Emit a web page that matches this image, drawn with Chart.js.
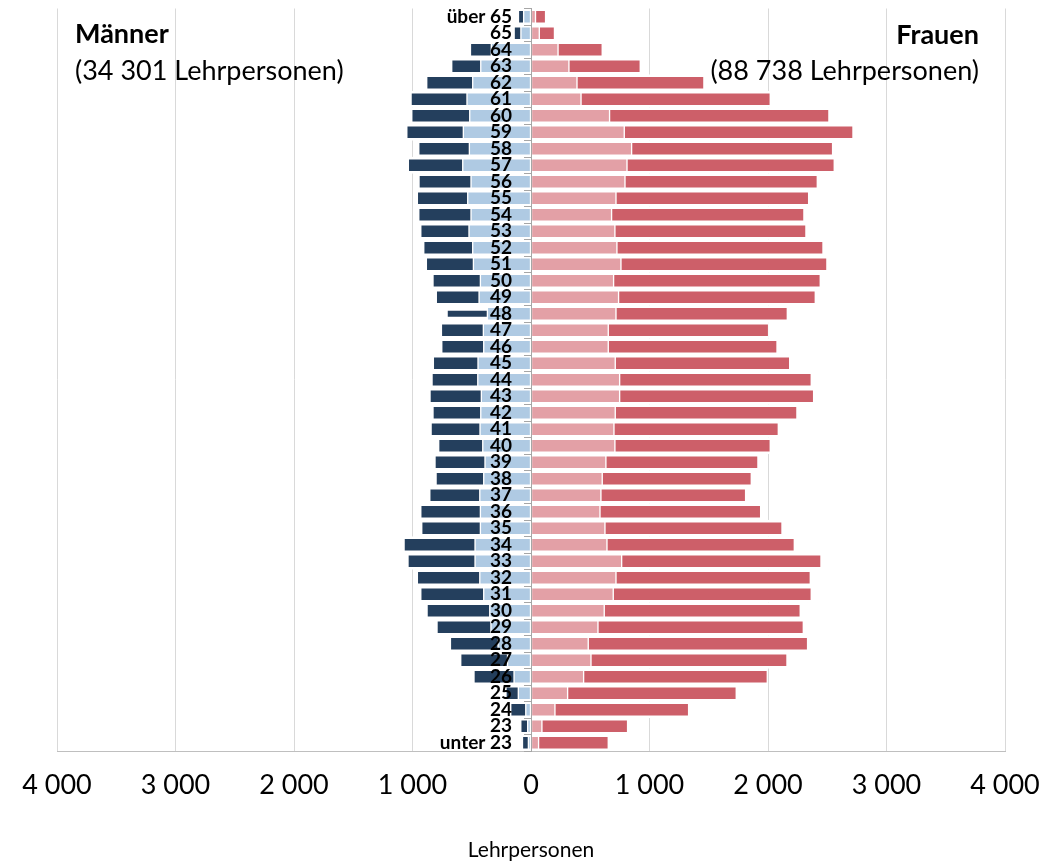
<!DOCTYPE html>
<html>
<head>
<meta charset="utf-8">
<script src="https://cdn.jsdelivr.net/npm/chart.js@4.4.1/dist/chart.umd.min.js"></script>
<style>
html, body { margin: 0; padding: 0; background: #fff; }
#wrap { position: relative; width: 1061px; height: 863px; }
canvas { display: block; }
.note { position: absolute; font-family: Lato, "Open Sans", sans-serif; font-size: 27px; line-height: 1; color: #000; white-space: nowrap; }
</style>
</head>
<body>
<div id="wrap">
  <canvas id="c" width="1061" height="863"></canvas>
  <div class="note" style="left:75px; top:19px; font-weight:bold;">Männer</div>
  <div class="note" style="left:75px; top:56px;">(34 301 Lehrpersonen)</div>
  <div class="note" style="right:82px; top:20px; font-weight:bold;">Frauen</div>
  <div class="note" style="right:82px; top:56px;">(88 738 Lehrpersonen)</div>
</div>
<script>
// Age groups, from top to bottom
const ageLabels = ['über 65','65','64','63','62','61','60','59','58','57','56','55','54','53','52','51','50','49','48','47','46','45','44','43','42','41','40','39','38','37','36','35','34','33','32','31','30','29','28','27','26','25','24','23','unter 23'];

// Männer (light = inner segment, dark = outer segment)
const menLight = [62,85,335,424,492,540,517,571,520,576,506,534,506,523,492,486,427,438,368,402,399,447,449,419,424,430,407,388,399,432,427,427,472,472,432,399,348,338,278,198,143,107,44,28,22];
const menDark  = [44,57,176,245,388,472,489,477,427,459,439,425,441,407,413,397,400,361,340,354,354,377,386,433,403,413,372,422,402,422,503,495,599,566,527,531,529,455,402,395,338,104,127,58,50];

// Frauen (light = inner segment, dark = outer segment)
const womenLight = [38,70,228,320,388,422,663,787,849,810,793,717,680,708,725,759,697,739,717,652,652,711,748,748,711,700,708,632,601,590,582,624,641,765,717,694,618,565,483,506,444,309,202,92,64];
const womenDark  = [85,128,373,602,1071,1597,1851,1930,1696,1749,1623,1626,1623,1612,1739,1738,1744,1660,1446,1353,1424,1472,1617,1637,1533,1387,1311,1283,1258,1221,1356,1494,1581,1682,1640,1671,1654,1733,1851,1654,1550,1423,1128,723,588];

// x axis ticks
const xTickValues = [-4000,-3000,-2000,-1000,0,1000,2000,3000,4000];
const xTickLabels = ['4 000','3 000','2 000','1 000','0','1 000','2 000','3 000','4 000'];

const thinRow = '48';

const normalBorder = {top: 2.9, bottom: 2.9, left: 1, right: 1};
const thinBorder = {top: 5.7, bottom: 5.7, left: 1, right: 1};

function ds(label, data, color, scriptThin) {
  return {
    label: label,
    data: data,
    backgroundColor: color,
    borderColor: '#ffffff',
    borderWidth: scriptThin ? (ctx) => (ageLabels[ctx.dataIndex] === thinRow ? thinBorder : normalBorder) : normalBorder,
    borderSkipped: false,
    barPercentage: 1,
    categoryPercentage: 1
  };
}

const zeroPad = (s) => { s.paddingTop = 0; s.paddingBottom = 0; };

new Chart(document.getElementById('c'), {
  type: 'bar',
  data: {
    labels: ageLabels,
    datasets: [
      ds('Männer hell', menLight.map(v => -v), '#AFCAE3', false),
      ds('Männer dunkel', menDark.map(v => -v), '#243F5D', true),
      ds('Frauen hell', womenLight, '#E3A0A6', false),
      ds('Frauen dunkel', womenDark, '#CD5F69', false)
    ]
  },
  options: {
    indexAxis: 'y',
    responsive: false,
    devicePixelRatio: 1,
    animation: false,
    layout: { padding: { left: 57, right: 56, top: 8.5, bottom: 0 } },
    plugins: { legend: { display: false }, tooltip: { enabled: false } },
    scales: {
      x: {
        stacked: true,
        min: -4000,
        max: 4000,
        afterBuildTicks: (s) => { s.ticks = xTickValues.map(v => ({ value: v })); },
        ticks: {
          callback: (v) => xTickLabels[xTickValues.indexOf(v)],
          font: { family: 'Lato', size: 27 },
          color: '#000',
          padding: 18,
          maxRotation: 0,
          autoSkip: false
        },
        grid: { color: '#D9D9D9', lineWidth: 1, drawTicks: false },
        border: { display: true, color: '#BFBFBF', width: 1 },
        title: {
          display: true,
          text: 'Lehrpersonen',
          font: { family: 'Lato', size: 21 },
          color: '#000',
          padding: { top: 0, bottom: 0 }
        },
        afterFit: (s) => { s.height = 112; s.paddingLeft = 0; s.paddingRight = 0; }
      },
      y: {
        stacked: true,
        position: { x: 0 },
        ticks: { display: false, autoSkip: false },
        grid: { drawOnChartArea: false, drawTicks: true, tickLength: 7, color: '#A6A6A6', offset: true, z: 1 },
        border: { display: true, color: '#A6A6A6', width: 1, z: 1 },
        afterFit: zeroPad
      },
      yLabels: {
        type: 'category',
        axis: 'y',
        labels: ageLabels,
        offset: true,
        position: { x: -160 },
        ticks: {
          font: { family: 'Lato', size: 19, weight: 'bold' },
          color: '#000',
          padding: 0,
          autoSkip: false,
          z: 2
        },
        grid: { display: false, drawTicks: false },
        border: { display: false },
        afterFit: zeroPad
      }
    }
  }
});
</script>
</body>
</html>
